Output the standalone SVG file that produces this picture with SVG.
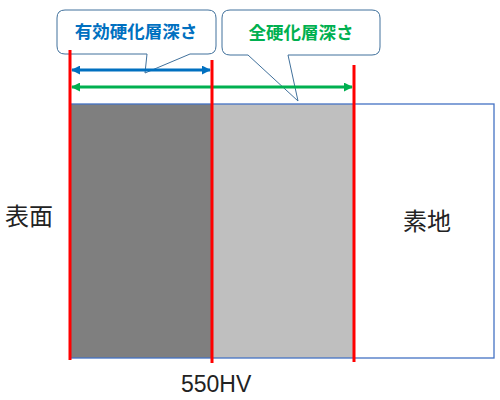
<svg xmlns="http://www.w3.org/2000/svg" width="500" height="400" viewBox="0 0 500 400">
<style>
.callout{fill:#ffffff;stroke:#41719C;stroke-width:1}
.red{stroke:#FF0000;stroke-width:3;fill:none}
.lbl{font-family:"Noto Sans CJK JP","Liberation Sans",sans-serif;font-size:24px;fill:#222222}
.ct{font-family:"Noto Sans CJK JP",sans-serif;font-size:17.5px;font-weight:bold;text-anchor:middle}
</style>
<defs>
<marker id="ab" viewBox="0 0 10 10" refX="9" refY="5" markerWidth="3" markerHeight="3" orient="auto-start-reverse" markerUnits="strokeWidth"><path d="M0,0 L10,5 L0,10 Z" fill="#0070C0"/></marker>
<marker id="ag" viewBox="0 0 10 10" refX="9" refY="5" markerWidth="3" markerHeight="3" orient="auto-start-reverse" markerUnits="strokeWidth"><path d="M0,0 L10,5 L0,10 Z" fill="#00B050"/></marker>
</defs>
<rect width="500" height="400" fill="#ffffff"/>
<g id="layers">
<rect x="70" y="104" width="142" height="254" fill="#7F7F7F"/>
<rect x="212" y="104" width="141" height="254" fill="#BFBFBF"/>
<rect x="70" y="104" width="424" height="254" fill="none" stroke="#4472C4" stroke-width="1.3"/>
</g>
<g id="callout-effective">
<path class="callout" d="M65,10 H208 Q216,10 216,18 V46 Q216,54 208,54 H190 L145,73 L147,54 H65 Q57,54 57,46 V18 Q57,10 65,10 Z"/>
<text class="ct" x="136" y="38" fill="#0070C0">有効硬化層深さ</text>
</g>
<g id="callout-total">
<path class="callout" d="M230,10 H372 Q380,10 380,18 V47 Q380,55 372,55 H288 L298,101 L248,55 H230 Q222,55 222,47 V18 Q222,10 230,10 Z"/>
<text class="ct" x="301" y="39" fill="#00B050" font-size="18">全硬化層深さ</text>
</g>
<g id="connectors">
<line x1="72" y1="70" x2="210" y2="70" stroke="#0070C0" stroke-width="3" marker-start="url(#ab)" marker-end="url(#ab)"/>
<line x1="72" y1="87" x2="352" y2="87" stroke="#00B050" stroke-width="3" marker-start="url(#ag)" marker-end="url(#ag)"/>
<line class="red" x1="70" y1="50" x2="70" y2="360"/>
<line class="red" x1="212" y1="60" x2="212" y2="363"/>
<line class="red" x1="354" y1="65" x2="354" y2="362"/>
</g>
<g id="labels">
<text class="lbl" x="5" y="225">表面</text>
<text class="lbl" x="403" y="230">素地</text>
<text x="181" y="392" font-family="'Liberation Sans',sans-serif" font-size="23" fill="#222222">550HV</text>
</g>
</svg>
